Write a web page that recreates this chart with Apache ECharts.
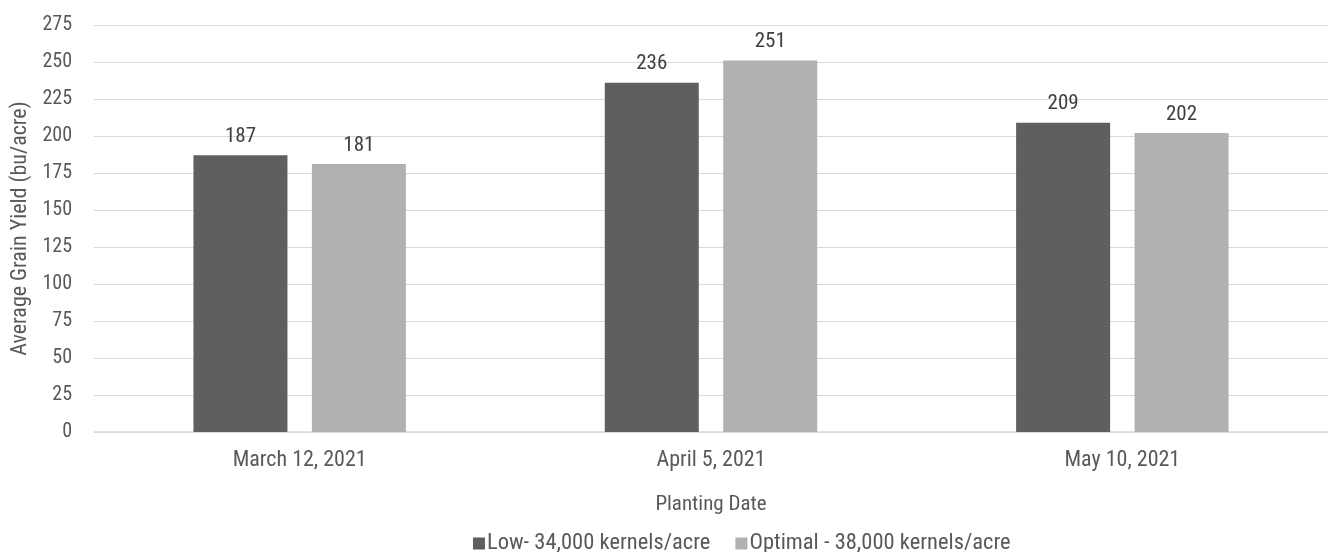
<!DOCTYPE html>
<html>
<head>
<meta charset="utf-8">
<script src="https://cdn.jsdelivr.net/npm/echarts@6/dist/echarts.min.js"></script>
<style>
  html, body { margin: 0; padding: 0; background: #fff; }
  #chart { width: 1335px; height: 552px; }
</style>
</head>
<body>
<div id="chart"></div>
<script>
// Planting dates on the category axis
var categories = ['March 12, 2021', 'April 5, 2021', 'May 10, 2021'];
// Average grain yield (bu/acre) per seeding rate
var lowRate = [187, 236, 209];
var optimalRate = [181, 251, 202];
var seriesNames = ['Low- 34,000 kernels/acre', 'Optimal - 38,000 kernels/acre'];
var yTicks = { min: 0, max: 275, interval: 25 };

var FONT = '"Roboto Condensed", "Roboto", sans-serif';
var TEXT = '#595959';

var chart = echarts.init(document.getElementById('chart'), null, { renderer: 'canvas' });

function barSeries(name, data, color) {
  return {
    name: name,
    type: 'bar',
    data: data,
    barWidth: 94,
    barGap: '26%',
    itemStyle: { color: color },
    label: {
      show: true,
      position: 'top',
      distance: 8,
      color: '#404040',
      fontFamily: FONT,
      fontSize: 21
    }
  };
}

chart.setOption({
  animation: false,
  textStyle: { fontFamily: FONT },
  grid: { left: 94, right: 7, top: 25, bottom: 120, containLabel: false },
  legend: {
    left: 473,
    top: 532,
    padding: 0,
    itemWidth: 12,
    itemHeight: 12,
    itemGap: 25,
    icon: 'rect',
    textStyle: { color: TEXT, fontFamily: FONT, fontSize: 22.5, padding: [0, 0, 0, -3] },
    data: seriesNames
  },
  xAxis: {
    type: 'category',
    data: categories,
    name: 'Planting Date',
    nameLocation: 'middle',
    nameGap: 62,
    nameTextStyle: { color: TEXT, fontFamily: FONT, fontSize: 21 },
    axisLine: { lineStyle: { color: '#d9d9d9', width: 1.5 } },
    axisTick: { show: false },
    axisLabel: { color: TEXT, fontFamily: FONT, fontSize: 22, margin: 17 }
  },
  yAxis: {
    type: 'value',
    min: yTicks.min,
    max: yTicks.max,
    interval: yTicks.interval,
    name: 'Average Grain Yield (bu/acre)',
    nameLocation: 'middle',
    nameGap: 59,
    nameTextStyle: { color: TEXT, fontFamily: FONT, fontSize: 22 },
    axisLine: { show: false },
    axisTick: { show: false },
    axisLabel: { color: TEXT, fontFamily: FONT, fontSize: 20, margin: 22 },
    splitLine: { lineStyle: { color: '#d9d9d9', width: 1 } }
  },
  series: [
    barSeries(seriesNames[0], lowRate, '#5f5f5f'),
    barSeries(seriesNames[1], optimalRate, '#b1b1b1')
  ]
});
</script>
</body>
</html>
